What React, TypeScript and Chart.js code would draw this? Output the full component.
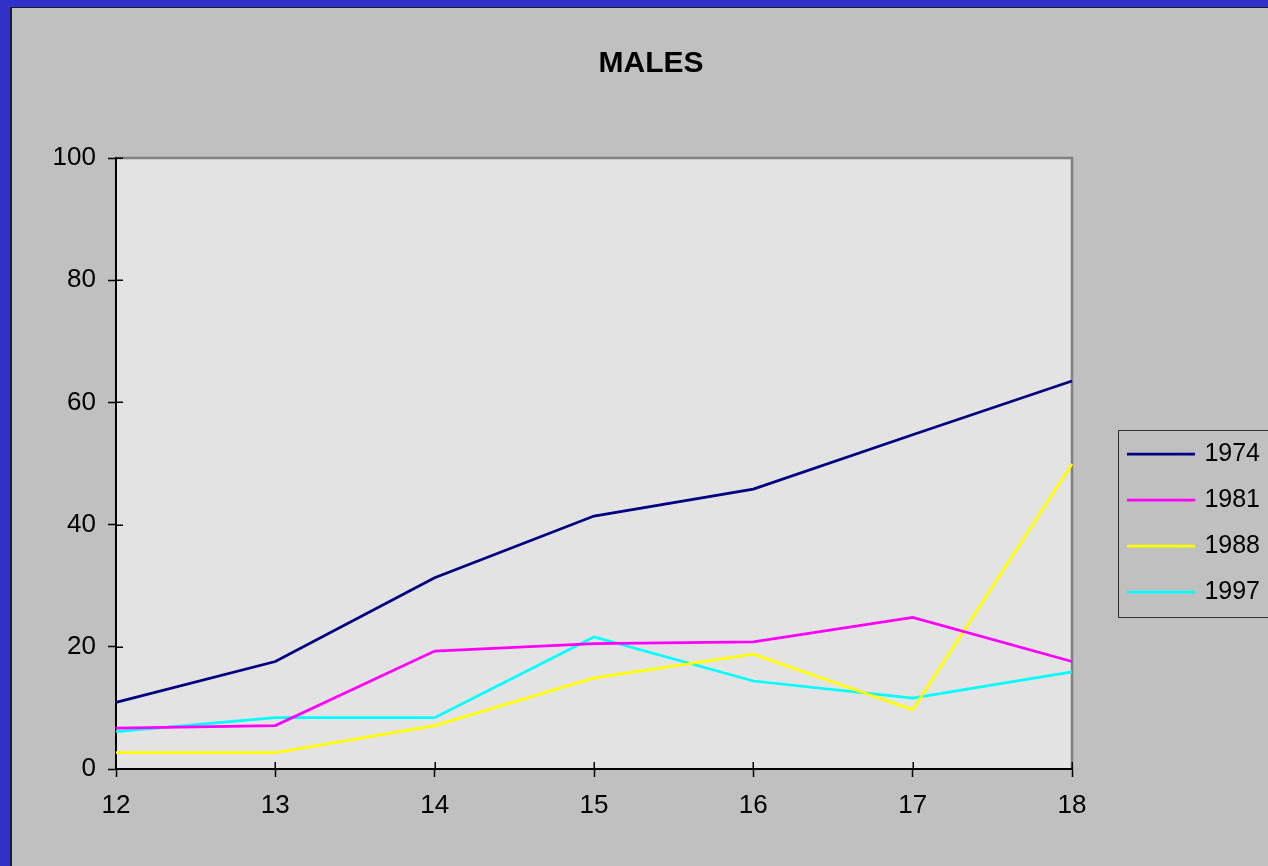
import React, { useEffect, useRef } from "react";
import { Chart, registerables } from "chart.js";

Chart.register(...registerables);

const ages = ["12", "13", "14", "15", "16", "17", "18"];
const seriesNames = ["1974", "1981", "1988", "1997"];
const values1974 = [10.9, 17.6, 31.3, 41.4, 45.8, 54.7, 63.5];
const values1981 = [6.7, 7.1, 19.3, 20.5, 20.8, 24.8, 17.6];
const values1988 = [2.7, 2.7, 7.1, 14.9, 18.8, 9.7, 49.9];
const values1997 = [6.1, 8.4, 8.4, 21.6, 14.4, 11.6, 15.9];
const yTickValues = [0, 20, 40, 60, 80, 100];
const chartTitle = "MALES";

const seriesColors = ["#000080", "#ff00ff", "#ffff00", "#00ffff"];
const FONT = "'Liberation Sans', Arial, Helvetica, sans-serif";

export default function App() {
  const ref = useRef<HTMLCanvasElement>(null);

  useEffect(() => {
    const canvas = ref.current;
    if (!canvas) return;

    const decor = {
      id: "decor",
      beforeDraw(chart: any) {
        const ctx = chart.ctx;
        const { chartArea } = chart;
        ctx.save();
        ctx.fillStyle = "#3131c9";
        ctx.fillRect(0, 0, chart.width, chart.height);
        ctx.fillStyle = "#c0c0c0";
        ctx.fillRect(10, 7, chart.width - 10, chart.height - 7);
        ctx.fillStyle = "#1c1c30";
        ctx.fillRect(10, 7, chart.width - 10, 1);
        ctx.fillRect(10, 7, 2, chart.height - 7);
        ctx.fillStyle = "#e3e3e3";
        ctx.fillRect(
          chartArea.left,
          chartArea.top,
          chartArea.right - chartArea.left,
          chartArea.bottom - chartArea.top
        );
        ctx.strokeStyle = "#808080";
        ctx.lineWidth = 2.5;
        ctx.beginPath();
        ctx.moveTo(chartArea.left, chartArea.top);
        ctx.lineTo(chartArea.right, chartArea.top);
        ctx.lineTo(chartArea.right, chartArea.bottom);
        ctx.stroke();
        ctx.restore();
      },
      afterLayout(chart: any) {
        const lg = chart.legend;
        if (lg) {
          lg.left = 1106;
          lg.right = 1260;
          lg.width = 154;
          lg.top = 410;
          lg.bottom = 636;
          lg.height = 226;
        }
        const tb = chart.titleBlock;
        if (tb) {
          tb.left = 551;
          tb.right = 751;
          tb.width = 200;
        }
      },
      afterDraw(chart: any) {
        const ctx = chart.ctx;
        const { chartArea } = chart;
        const xs = chart.scales.x;
        const ys = chart.scales.y;
        ctx.save();
        ctx.strokeStyle = "#000";
        ctx.lineWidth = 1.5;
        ctx.beginPath();
        ys.ticks.forEach((t: any) => {
          const y = Math.round(ys.getPixelForValue(t.value)) + 0.25;
          ctx.moveTo(chartArea.left, y);
          ctx.lineTo(chartArea.left + 7, y);
        });
        xs.ticks.forEach((_t: any, i: number) => {
          const x = Math.round(xs.getPixelForTick(i)) + 0.25;
          ctx.moveTo(x, chartArea.bottom);
          ctx.lineTo(x, chartArea.bottom - 7);
        });
        ctx.stroke();
        // legend frame
        ctx.strokeStyle = "#303030";
        ctx.lineWidth = 1;
        ctx.strokeRect(1118.5, 430.5, 200, 187);
        ctx.restore();
      },
    };

    const datasetValues = [values1974, values1981, values1988, values1997];

    const chart = new Chart(canvas, {
      type: "line",
      data: {
        labels: ages,
        datasets: seriesNames.map((name, i) => ({
          label: name,
          data: datasetValues[i],
          borderColor: seriesColors[i],
          backgroundColor: seriesColors[i],
          borderWidth: 2.75,
          pointRadius: 0,
          pointHoverRadius: 0,
          tension: 0,
          fill: false,
        })),
      },
      options: {
        responsive: false,
        maintainAspectRatio: false,
        animation: false,
        events: [],
        layout: { padding: { left: 0, top: 0, right: 196, bottom: 0 } },
        plugins: {
          title: {
            display: true,
            text: chartTitle,
            color: "#000",
            font: { family: FONT, size: 30, weight: "bold" },
            padding: { top: 45.5, bottom: 76.5 },
          },
          legend: {
            display: true,
            position: "chartArea",
            align: "center",
            labels: {
              usePointStyle: true,
              pointStyle: "line",
              pointStyleWidth: 68,
              padding: 21,
              color: "#000",
              textAlign: "right",
              font: { family: FONT, size: 25 },
            },
          },
          tooltip: { enabled: false },
        },
        scales: {
          x: {
            type: "category",
            offset: false,
            ticks: {
              color: "#000",
              font: { family: FONT, size: 26 },
              padding: 13,
              maxRotation: 0,
              autoSkip: false,
            },
            grid: {
              display: true,
              drawOnChartArea: false,
              drawTicks: true,
              tickLength: 8,
              tickColor: "#000",
              tickWidth: 1.5,
              offset: false,
            },
            border: { display: true, color: "#000", width: 2 },
            afterFit: (s: any) => {
              s.height = 97;
            },
          },
          y: {
            min: yTickValues[0],
            max: yTickValues[yTickValues.length - 1],
            ticks: {
              stepSize: yTickValues[1] - yTickValues[0],
              color: "#000",
              font: { family: FONT, size: 26 },
              padding: 12,
            },
            grid: {
              display: true,
              drawOnChartArea: false,
              drawTicks: true,
              tickLength: 8,
              tickColor: "#000",
              tickWidth: 1.5,
            },
            border: { display: true, color: "#000", width: 2 },
            afterFit: (s: any) => {
              s.width = 116;
            },
          },
        },
      } as any,
      plugins: [decor],
    });

    return () => chart.destroy();
  }, []);

  return (
    <div
      style={{
        position: "absolute",
        left: 0,
        top: 0,
        width: 1268,
        height: 866,
        overflow: "hidden",
      }}
    >
      <canvas ref={ref} width={1268} height={866} style={{ display: "block" }} />
    </div>
  );
}
